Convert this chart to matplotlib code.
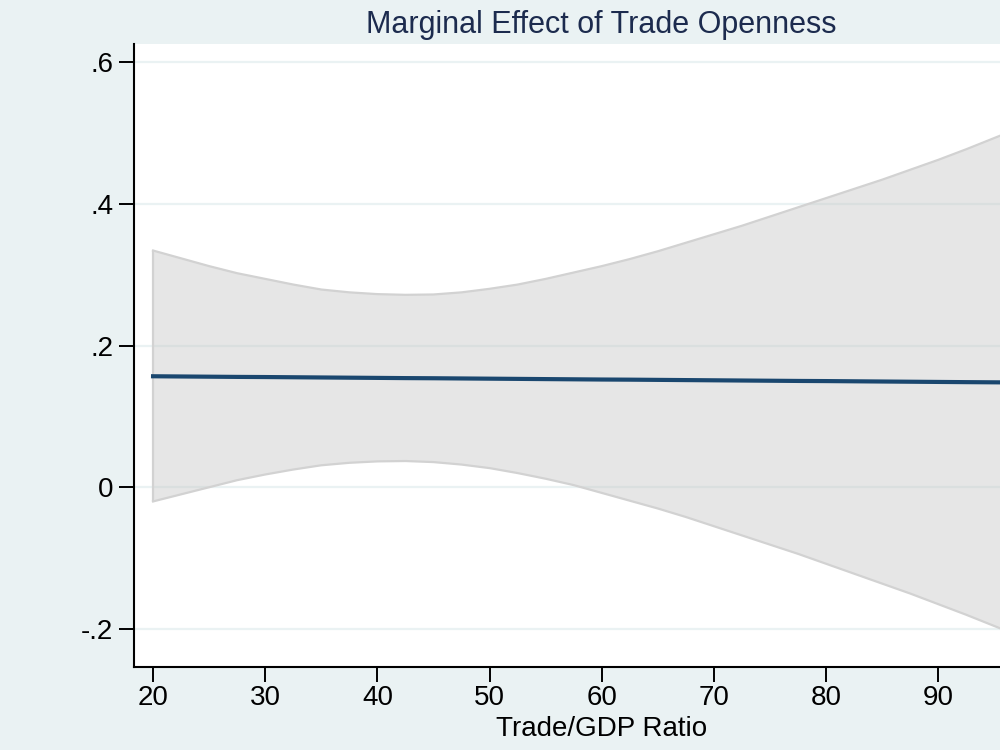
"""
Marginal effect of trade openness, Stata-style chart.
"""

import matplotlib
matplotlib.use("Agg")
import matplotlib.pyplot as plt

# ---------------------------------------------------------------------------
# Data
# ---------------------------------------------------------------------------

trade_gdp = [20, 22.5, 25, 27.5, 30, 32.5, 35, 37.5, 40, 42.5, 45, 47.5,
             50, 52.5, 55, 57.5, 60, 62.5, 65, 67.5, 70, 72.5, 75, 77.5,
             80, 82.5, 85, 87.5, 90, 92.5, 95.5]
effect    = [0.1566, 0.1563, 0.1560, 0.1557, 0.1555, 0.1552, 0.1549, 0.1546,
             0.1543, 0.1540, 0.1538, 0.1535, 0.1532, 0.1529, 0.1526, 0.1523,
             0.1520, 0.1518, 0.1515, 0.1512, 0.1509, 0.1506, 0.1503, 0.1500,
             0.1498, 0.1495, 0.1492, 0.1489, 0.1486, 0.1483, 0.1480]
ci_upper  = [0.334, 0.323, 0.312, 0.302, 0.294, 0.286, 0.279, 0.275,
             0.2725, 0.2715, 0.272, 0.275, 0.280, 0.286, 0.294, 0.303,
             0.312, 0.322, 0.333, 0.345, 0.357, 0.369, 0.382, 0.395,
             0.408, 0.421, 0.434, 0.448, 0.462, 0.477, 0.496]
ci_lower  = [-0.020, -0.010, 0.000, 0.010, 0.018, 0.025, 0.031, 0.0345,
             0.0365, 0.037, 0.0355, 0.032, 0.027, 0.020, 0.012, 0.003,
             -0.008, -0.019, -0.030, -0.042, -0.055, -0.068, -0.081, -0.094,
             -0.108, -0.122, -0.136, -0.150, -0.165, -0.180, -0.199]

x_ticks   = [20, 30, 40, 50, 60, 70, 80, 90]
y_ticks   = [-0.2, 0.0, 0.2, 0.4, 0.6]
y_labels  = ["-.2", "0", ".2", ".4", ".6"]

# ---------------------------------------------------------------------------
# Style
# ---------------------------------------------------------------------------

BG_COLOR    = "#eaf2f3"
LINE_COLOR  = "#1a476f"
TITLE_COLOR = "#1c2b4e"
EDGE_COLOR  = "#d2d2d2"
plt.rcParams["font.family"] = ["Liberation Sans", "DejaVu Sans"]

fig = plt.figure(figsize=(10, 7.5), dpi=100)
fig.patch.set_facecolor(BG_COLOR)
ax = fig.add_axes([0.134, 0.1107, 0.866, 0.8306])
ax.set_facecolor("white")

# grid first, band semi-transparent so the grid shows through
for y in y_ticks:
    ax.axhline(y, color=BG_COLOR, linewidth=1.6, zorder=1)

ax.fill_between(trade_gdp, ci_lower, ci_upper, facecolor="#c8c8c8",
                alpha=0.45, edgecolor="none", zorder=2)
ax.plot(trade_gdp, ci_upper, color=EDGE_COLOR, linewidth=1.6, zorder=3)
ax.plot(trade_gdp, ci_lower, color=EDGE_COLOR, linewidth=1.6, zorder=3)
ax.plot([trade_gdp[0], trade_gdp[0]], [ci_lower[0], ci_upper[0]],
        color=EDGE_COLOR, linewidth=1.6, zorder=3)
ax.plot(trade_gdp, effect, color=LINE_COLOR, linewidth=3, zorder=4)

ax.set_xlim(18.3, 95.5)
ax.set_ylim(-0.2536, 0.6254)

ax.set_xticks(x_ticks)
ax.set_yticks(y_ticks)
ax.set_yticklabels(y_labels)
ax.tick_params(axis="both", direction="out", length=11, width=1.4,
               labelsize=20, colors="black")
ax.tick_params(axis="x", pad=2)
ax.tick_params(axis="y", pad=4)

for side in ("top", "right"):
    ax.spines[side].set_visible(False)
for side in ("left", "bottom"):
    ax.spines[side].set_linewidth(1.5)
    ax.spines[side].set_color("black")

fig.text(0.6015, 0.966, "Marginal Effect of Trade Openness", ha="center",
         va="center", fontsize=22, color=TITLE_COLOR)
fig.text(0.6015, 0.028, "Trade/GDP Ratio", ha="center", va="center",
         fontsize=20, color="black")

plt.savefig("out.png", dpi=100, facecolor=fig.get_facecolor())
plt.close(fig)
